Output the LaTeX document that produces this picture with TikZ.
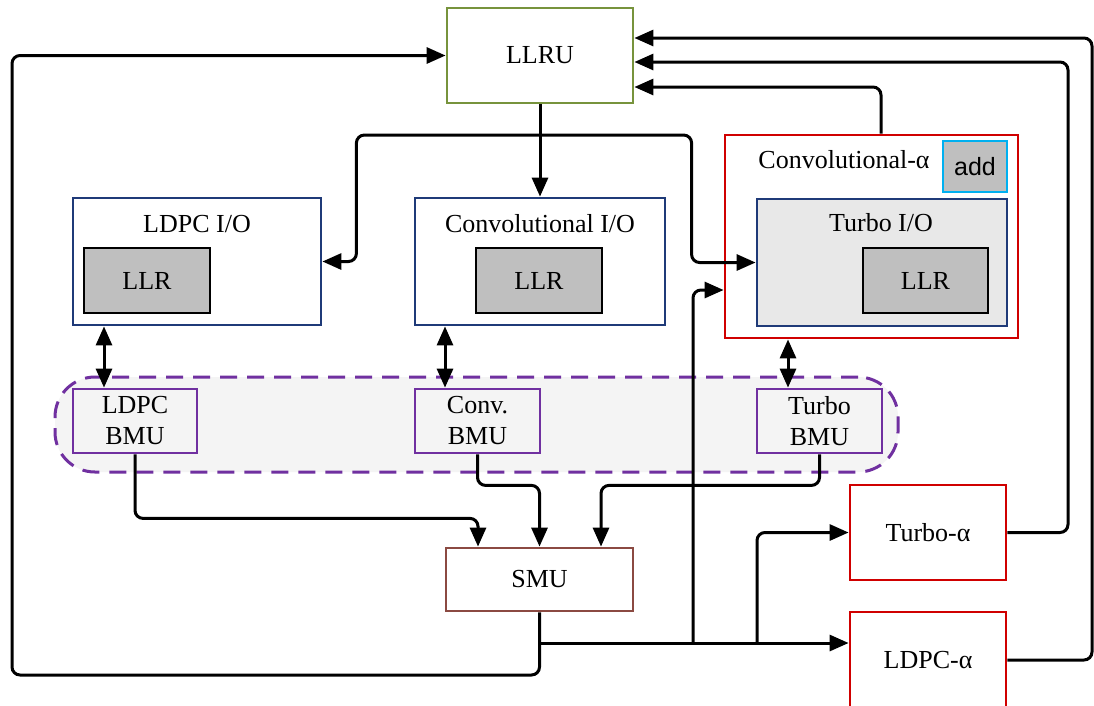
\documentclass[tikz,border=0pt]{standalone}
\usepackage{fontspec}
\setmainfont{Liberation Serif}
\newfontfamily\sansf{Liberation Sans}
\usetikzlibrary{arrows.meta}
\definecolor{llrugreen}{HTML}{77933C}
\definecolor{navyb}{HTML}{1F3A78}
\definecolor{redb}{HTML}{D00000}
\definecolor{purp}{HTML}{7030A0}
\definecolor{brownb}{HTML}{8B4A42}
\definecolor{cyanb}{HTML}{00B0F0}
\begin{document}
\begin{tikzpicture}[x=1pt,y=-1pt,
  box/.style={draw, line width=2.8pt, inner sep=0pt, font=\fontsize{26}{31}\selectfont, align=center},
  lbl/.style={inner sep=0pt, font=\fontsize{26}{31}\selectfont},
  llrbox/.style={box, draw=black, fill=gray!50, minimum width=126pt, minimum height=65pt},
  bmubox/.style={box, draw=purp, minimum width=124pt, minimum height=64pt},
  conn/.style={line width=3pt, rounded corners=8pt},
  arr/.style={-{Triangle[length=19pt,width=16pt]}},
  darr/.style={{Triangle[length=19pt,width=16pt]}-{Triangle[length=19pt,width=16pt]}}]
\clip (0,0) rectangle (1094,705);
\fill[white] (0,0) rectangle (1094,705);
% nodes
\node[box, draw=llrugreen, minimum width=186pt, minimum height=95pt] (llru) at (540,55.5) {LLRU};
\node[box, draw=navyb, minimum width=248pt, minimum height=127pt] (ldpcio) at (197,261.5) {};
\node[lbl] (ldpciol) at (197,224) {LDPC I/O};
\node[llrbox] (llr1) at (147,280.5) {LLR};
\node[box, draw=navyb, minimum width=250pt, minimum height=127pt] (convio) at (540,261.5) {};
\node[lbl] (convial) at (540,224) {Convolutional I/O};
\node[llrbox] (llr2) at (539,280.5) {LLR};
\node[box, draw=redb, fill=white, minimum width=293pt, minimum height=203pt] (convalpha) at (871.5,236.5) {};
\node[lbl] (convalphal) at (844,160) {Convolutional-α};
\node[box, draw=cyanb, fill=gray!50, minimum width=64pt, minimum height=51pt, font=\sansf\fontsize{25}{30}\selectfont] (add) at (975,166.5) {add};
\node[box, draw=navyb, fill=gray!18, minimum width=250pt, minimum height=127pt] (turboio) at (882,262.5) {};
\node[lbl] (turboiol) at (881,223) {Turbo I/O};
\node[llrbox, minimum width=125pt] (llr3) at (925.5,280.5) {LLR};
\node[draw=purp, line width=3pt, dash pattern=on 17pt off 10pt, fill=gray!9, rounded corners=40pt, minimum width=843pt, minimum height=95pt] (bmugroup) at (476.5,424.5) {};
\node[bmubox] (ldpcbmu) at (135,421) {LDPC\\BMU};
\node[bmubox, minimum width=125pt] (convbmu) at (477.5,421) {Conv.\\BMU};
\node[bmubox, minimum width=125pt] (turbobmu) at (819.5,421) {Turbo\\BMU};
\node[box, draw=brownb, minimum width=187pt, minimum height=63pt] (smu) at (539.5,579.5) {SMU};
\node[box, draw=redb, minimum width=156pt, minimum height=95pt] (turboa) at (928,532.5) {Turbo-α};
\node[box, draw=redb, minimum width=156pt, minimum height=96pt] (ldpca) at (928,660) {LDPC-α};
% coordinates
\coordinate (j1) at (540,135);
\coordinate (lc) at (12,675);
\coordinate (j2) at (539.5,643);
\coordinate (j3) at (693,643);
\coordinate (j5) at (757,643);
\coordinate (rc1) at (1092,38);
\coordinate (rc2) at (1068,62);
% connectors
\draw[conn,arr] (llru.south) -- (convio.north);
\draw[conn,arr] (j1) -| ([xshift=34pt]ldpcio.east) -- (ldpcio.east);
\draw[conn,arr] (j1) -| ([xshift=-64pt]turboio.west) -- (turboio.west);
\draw[conn,darr] ([xshift=-31pt]ldpcbmu.north |- ldpcio.south) -- ([xshift=-31pt]ldpcbmu.north);
\draw[conn,darr] ([xshift=-32.5pt]convbmu.north |- convio.south) -- ([xshift=-32.5pt]convbmu.north);
\draw[conn,darr] ([xshift=-31.5pt]turbobmu.north |- convalpha.south) -- ([xshift=-31.5pt]turbobmu.north);
\draw[conn,arr] (ldpcbmu.south) -- ++(0,64) -| ([xshift=-61.5pt]smu.north);
\draw[conn,arr] (convbmu.south) -- ++(0,31) -| (smu.north);
\draw[conn,arr] (turbobmu.south) -- ++(0,31) -| ([xshift=61.5pt]smu.north);
\draw[conn,arr] (smu.south) |- (lc) |- (llru.west);
\draw[conn,arr] (j2) -- (ldpca.west |- j2);
\draw[conn,arr] (j3) |- ([yshift=-53.5pt]convalpha.west);
\draw[conn,arr] (j5) |- (turboa.west);
\draw[conn,arr] (turboa.east) -| (rc2) -- (llru.east |- rc2);
\draw[conn,arr] (ldpca.east) -| (rc1) -- (llru.east |- rc1);
\draw[conn,arr] ([xshift=9.5pt]convalpha.north) |- ([yshift=-31.5pt]llru.east);
\end{tikzpicture}
\end{document}
